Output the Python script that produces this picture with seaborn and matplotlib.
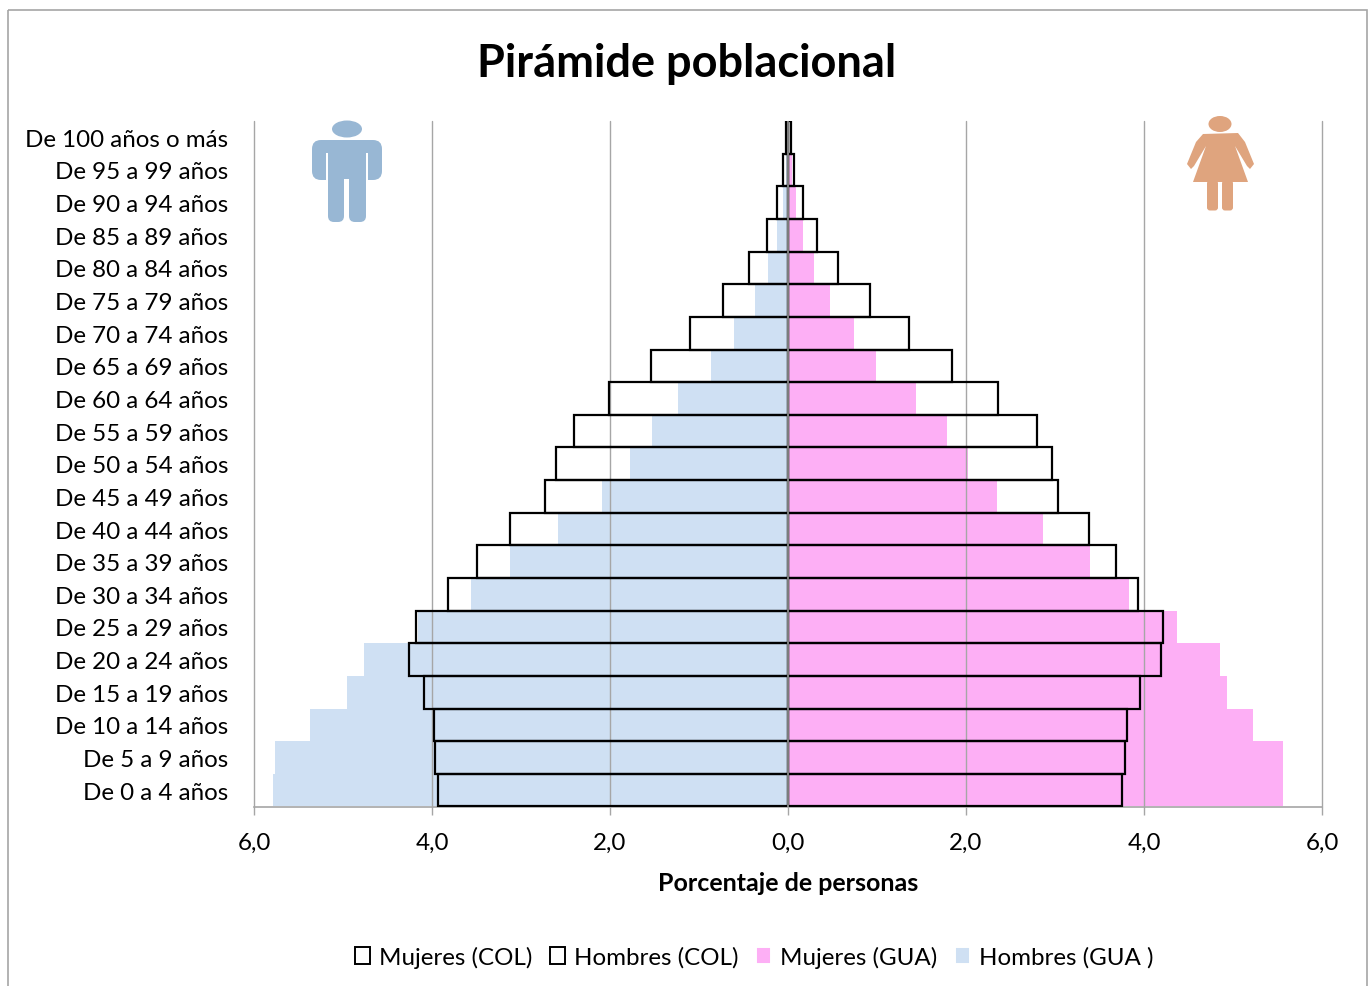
import matplotlib
matplotlib.use("Agg")
import matplotlib.pyplot as plt
import seaborn as sns
from matplotlib.patches import Ellipse, Polygon, FancyBboxPatch, Rectangle
from matplotlib.transforms import Affine2D

ages = ["De 100 años o más", "De 95 a 99 años", "De 90 a 94 años", "De 85 a 89 años",
        "De 80 a 84 años", "De 75 a 79 años", "De 70 a 74 años", "De 65 a 69 años",
        "De 60 a 64 años", "De 55 a 59 años", "De 50 a 54 años", "De 45 a 49 años",
        "De 40 a 44 años", "De 35 a 39 años", "De 30 a 34 años", "De 25 a 29 años",
        "De 20 a 24 años", "De 15 a 19 años", "De 10 a 14 años", "De 5 a 9 años", "De 0 a 4 años"]
hombres_gua = [-0.01, -0.02, -0.06, -0.12, -0.22, -0.37, -0.61, -0.87, -1.24, -1.53, -1.78,
               -2.09, -2.58, -3.12, -3.56, -4.16, -4.76, -4.95, -5.37, -5.76, -5.79]
mujeres_gua = [0.01, 0.04, 0.09, 0.17, 0.29, 0.47, 0.74, 0.99, 1.44, 1.79, 2.02,
               2.35, 2.87, 3.39, 3.83, 4.37, 4.85, 4.93, 5.23, 5.56, 5.56]
hombres_col = [-0.02, -0.06, -0.12, -0.24, -0.44, -0.73, -1.10, -1.54, -2.01, -2.40, -2.61,
               -2.73, -3.12, -3.49, -3.82, -4.18, -4.26, -4.09, -3.98, -3.97, -3.93]
mujeres_col = [0.03, 0.07, 0.17, 0.33, 0.56, 0.92, 1.36, 1.84, 2.36, 2.80, 2.97,
               3.03, 3.38, 3.68, 3.93, 4.21, 4.19, 3.95, 3.81, 3.79, 3.75]
xticks = [-6, -4, -2, 0, 2, 4, 6]
xticklabels = ["6,0", "4,0", "2,0", "0,0", "2,0", "4,0", "6,0"]

W, H = 1368, 987
sns.set_theme(style="white")
plt.rcParams["font.family"] = ["Lato", "DejaVu Sans"]
fig = plt.figure(figsize=(W / 100, H / 100), dpi=100, facecolor="white")
ax = fig.add_axes([254 / W, 1 - 807.5 / H, (1322 - 254) / W, (807.5 - 122) / H])

BLUE, PINK = "#cfe0f3", "#fdaff5"
sns.barplot(x=hombres_gua, y=ages, order=ages, orient="y", width=1, color=BLUE, saturation=1,
            linewidth=0, label="Hombres (GUA )", ax=ax, zorder=1)
sns.barplot(x=mujeres_gua, y=ages, order=ages, orient="y", width=1, color=PINK, saturation=1,
            linewidth=0, label="Mujeres (GUA)", ax=ax, zorder=1)
sns.barplot(x=hombres_col, y=ages, order=ages, orient="y", width=1, fill=False, color="black",
            saturation=1, linewidth=1.6, label="Hombres (COL)", ax=ax, zorder=3)
sns.barplot(x=mujeres_col, y=ages, order=ages, orient="y", width=1, fill=False, color="black",
            saturation=1, linewidth=1.6, label="Mujeres (COL)", ax=ax, zorder=3)
for bar in ax.patches:
    if bar.get_facecolor()[3] == 0:
        bar.set_edgecolor("black")

ax.set_xlim(-6, 6)
ax.set_ylim(20.5, -0.5)
ax.set_xticks(xticks, xticklabels)
ax.set_xlabel("Porcentaje de personas", fontsize=18, fontweight="bold", labelpad=13, color="black")
ax.set_ylabel("")
ax.set_facecolor("none")
ax.xaxis.grid(True, color="#a6a6a6", linewidth=1.0)
ax.set_axisbelow(False)
for gl in ax.get_xgridlines():
    gl.set_zorder(2)
    gl.set_clip_on(False)
ax.tick_params(axis="x", bottom=True, labelsize=17.4, labelcolor="black", length=6, width=1.0,
               color="#a6a6a6", pad=12.5)
ax.tick_params(axis="y", labelsize=17.4, labelcolor="black", length=0, pad=18.5)
for s in ["top", "left", "right"]:
    ax.spines[s].set_visible(False)
ax.spines["bottom"].set_color("#a6a6a6")
ax.spines["bottom"].set_linewidth(1.2)
ax.axvline(0, color="#808080", linewidth=1.4, zorder=4)

fig.text(687 / W, 1 - 64 / H, "Pirámide poblacional", ha="center", va="center",
         fontsize=32.5, fontweight="bold", color="black")

handles, labels = ax.get_legend_handles_labels()
lookup = dict(zip(labels, handles))
order = ["Mujeres (COL)", "Hombres (COL)", "Mujeres (GUA)", "Hombres (GUA )"]
if ax.get_legend():
    ax.get_legend().remove()
leg = fig.legend([lookup[k] for k in order], order, ncol=4, loc="center",
                 bbox_to_anchor=(754 / W, 1 - 958 / H), frameon=False, fontsize=17.4,
                 handlelength=0.65, handleheight=0.65, handletextpad=0.35, columnspacing=0.72,
                 labelcolor="black")
for h in leg.get_patches():
    h.set_linewidth(1.4)

# Page frame and pictograms, placed in pixel coordinates from the top-left corner
px = Affine2D().scale(1, -1).translate(0, H)
def add(p):
    p.set_transform(px)
    fig.add_artist(p)

add(Rectangle((7.5, 10.5), 1359, 1100, fill=False, edgecolor="#a6a6a6", linewidth=1.2))

MAN = "#98b7d4"
add(Ellipse((347, 130), 30, 17, color=MAN, lw=0))
add(FancyBboxPatch((312, 141), 70, 40, boxstyle="round,pad=0,rounding_size=9", color=MAN, lw=0))
add(Rectangle((326, 154), 42, 30, color="white", lw=0))
add(Rectangle((328, 150), 38, 55, color=MAN, lw=0))
add(FancyBboxPatch((328, 195), 16, 28, boxstyle="round,pad=0,rounding_size=6", color=MAN, lw=0))
add(FancyBboxPatch((349, 195), 17, 28, boxstyle="round,pad=0,rounding_size=6", color=MAN, lw=0))
add(Rectangle((344, 180), 5, 36, color="white", lw=0))

WOM = "#dfa47e"
add(Ellipse((1220, 125), 23, 16, color=WOM, lw=0))
add(Polygon([(1203, 135), (1238, 134), (1245, 143), (1254, 165), (1250, 170), (1247, 167), (1235, 147),
             (1248, 183), (1193, 183), (1206, 147), (1194, 167), (1191, 170), (1187, 165), (1196, 143)],
            closed=True, color=WOM, lw=0))
add(FancyBboxPatch((1208.5, 183), 8, 27, boxstyle="round,pad=1.5,rounding_size=3", color=WOM, lw=0))
add(FancyBboxPatch((1223.5, 183), 8, 27, boxstyle="round,pad=1.5,rounding_size=3", color=WOM, lw=0))

fig.savefig("out.png", dpi=100, facecolor="white")
